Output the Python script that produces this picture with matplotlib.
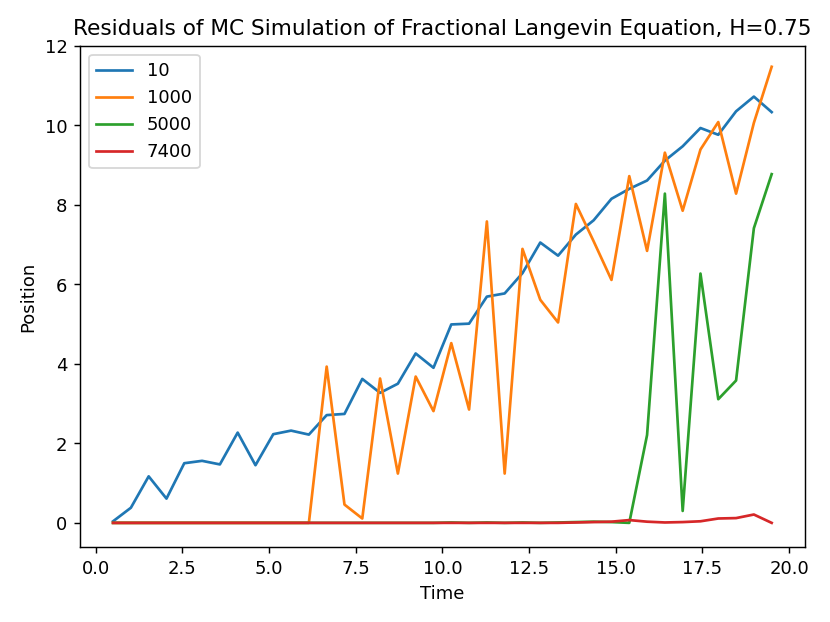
import numpy as np
import matplotlib
matplotlib.use("Agg")
import matplotlib.pyplot as plt

# time grid: 38 samples between 0.5 and 19.5
time = np.linspace(0.5, 19.5, 38)

labels = ["10", "1000", "5000", "7400"]

pos_10 = [0.04, 0.38, 1.17, 0.61, 1.50, 1.56, 1.47, 2.27, 1.45, 2.23,
          2.32, 2.22, 2.71, 2.74, 3.62, 3.27, 3.50, 4.26, 3.90, 4.99,
          5.01, 5.69, 5.77, 6.28, 7.05, 6.72, 7.25, 7.61, 8.15, 8.40,
          8.61, 9.11, 9.47, 9.93, 9.76, 10.35, 10.72, 10.33]

pos_1000 = [0.0, 0.0, 0.0, 0.0, 0.0, 0.0, 0.0, 0.0, 0.0, 0.0,
            0.0, 0.0, 3.93, 0.46, 0.11, 3.63, 1.24, 3.68, 2.81, 4.52,
            2.85, 7.58, 1.24, 6.89, 5.61, 5.04, 8.02, 7.08, 6.11, 8.72,
            6.84, 9.31, 7.85, 9.39, 10.08, 8.28, 10.06, 11.47]

pos_5000 = [0.0, 0.0, 0.0, 0.0, 0.0, 0.0, 0.0, 0.0, 0.0, 0.0,
            0.0, 0.0, 0.0, 0.0, 0.0, 0.0, 0.0, 0.0, 0.0, 0.01,
            0.0, 0.01, 0.0, 0.01, 0.0, 0.01, 0.02, 0.03, 0.02, 0.0,
            2.21, 8.28, 0.30, 6.27, 3.11, 3.58, 7.41, 8.77]

pos_7400 = [0.0, 0.0, 0.0, 0.0, 0.0, 0.0, 0.0, 0.0, 0.0, 0.0,
            0.0, 0.0, 0.0, 0.0, 0.0, 0.0, 0.0, 0.0, 0.0, 0.0,
            0.0, 0.0, 0.0, 0.0, 0.0, 0.0, 0.01, 0.02, 0.03, 0.07,
            0.03, 0.01, 0.02, 0.04, 0.11, 0.12, 0.21, 0.0]

series = [pos_10, pos_1000, pos_5000, pos_7400]

fig = plt.figure(figsize=(6.4, 4.8), dpi=129.7)
for vals, lab in zip(series, labels):
    plt.plot(time, vals, label=lab)

axes = plt.gca()
axes.set_xlabel('Time')
axes.set_ylabel('Position')
axes.set_title('Residuals of MC Simulation of Fractional Langevin Equation, H=0.75')
axes.set_ylim(-0.6, 12.0)
axes.legend(loc='upper left')
plt.tight_layout()
plt.savefig("out.png")
